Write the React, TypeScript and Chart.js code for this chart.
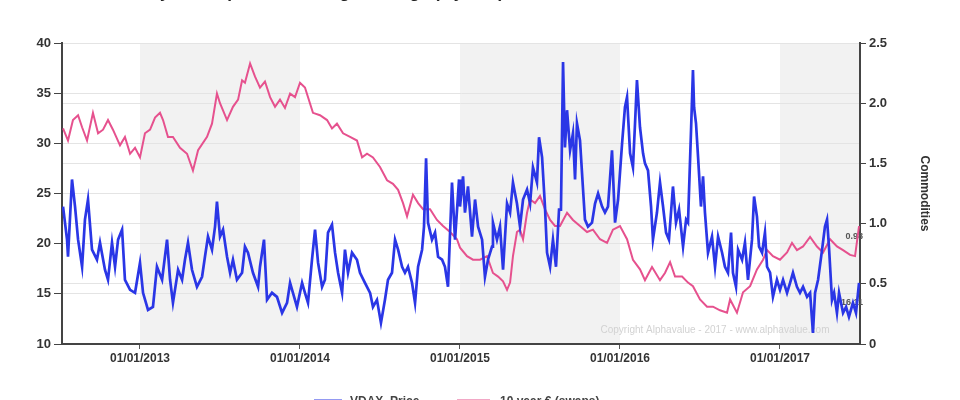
import { useEffect, useRef } from "react";
import { Chart, registerables } from "chart.js";

Chart.register(...registerables);

// ---- Data (time in decimal years) ----
const vdaxDates = [
  2012.519, 2012.544, 2012.55, 2012.575, 2012.594, 2012.613, 2012.638, 2012.656, 2012.675, 2012.7,
  2012.731, 2012.75, 2012.781, 2012.8, 2012.825, 2012.844, 2012.863, 2012.888, 2012.906, 2012.938,
  2012.969, 2013.0, 2013.019, 2013.05, 2013.081, 2013.106, 2013.138, 2013.169, 2013.188, 2013.206,
  2013.238, 2013.263, 2013.281, 2013.3, 2013.325, 2013.356, 2013.388, 2013.406, 2013.425, 2013.45,
  2013.469, 2013.481, 2013.5, 2013.519, 2013.544, 2013.563, 2013.581, 2013.606, 2013.638, 2013.656,
  2013.675, 2013.706, 2013.738, 2013.75, 2013.775, 2013.794, 2013.825, 2013.856, 2013.888, 2013.919,
  2013.938, 2013.956, 2013.981, 2014.013, 2014.031, 2014.05, 2014.075, 2014.094, 2014.113, 2014.138,
  2014.156, 2014.175, 2014.2, 2014.219, 2014.238, 2014.263, 2014.281, 2014.3, 2014.325, 2014.356,
  2014.375, 2014.406, 2014.438, 2014.456, 2014.481, 2014.506, 2014.531, 2014.55, 2014.575, 2014.594,
  2014.613, 2014.638, 2014.656, 2014.675, 2014.7, 2014.719, 2014.738, 2014.763, 2014.775, 2014.788,
  2014.8, 2014.825, 2014.844, 2014.863, 2014.888, 2014.906, 2014.925, 2014.95, 2014.969, 2014.994,
  2015.0, 2015.019, 2015.031, 2015.05, 2015.075, 2015.094, 2015.113, 2015.138, 2015.156, 2015.175,
  2015.2, 2015.206, 2015.231, 2015.25, 2015.269, 2015.294, 2015.313, 2015.331, 2015.356, 2015.375,
  2015.394, 2015.419, 2015.438, 2015.456, 2015.481, 2015.494, 2015.513, 2015.531, 2015.544, 2015.563,
  2015.581, 2015.6, 2015.619, 2015.631, 2015.644, 2015.656, 2015.669, 2015.688, 2015.706, 2015.719,
  2015.731, 2015.75, 2015.769, 2015.781, 2015.8, 2015.825, 2015.844, 2015.863, 2015.888, 2015.906,
  2015.925, 2015.95, 2015.969, 2015.988, 2016.013, 2016.031, 2016.044, 2016.063, 2016.081, 2016.094,
  2016.106, 2016.125, 2016.144, 2016.156, 2016.175, 2016.194, 2016.206, 2016.231, 2016.25, 2016.269,
  2016.288, 2016.306, 2016.331, 2016.35, 2016.369, 2016.394, 2016.413, 2016.425, 2016.444, 2016.456,
  2016.463, 2016.475, 2016.488, 2016.506, 2016.519, 2016.531, 2016.55, 2016.575, 2016.594, 2016.613,
  2016.638, 2016.656, 2016.675, 2016.694, 2016.706, 2016.725, 2016.738, 2016.763, 2016.781, 2016.8,
  2016.825, 2016.838, 2016.856, 2016.869, 2016.888, 2016.906, 2016.919, 2016.938, 2016.956, 2016.981,
  2017.0, 2017.019, 2017.044, 2017.063, 2017.081, 2017.106, 2017.125, 2017.144, 2017.169, 2017.188,
  2017.206, 2017.219, 2017.238, 2017.263, 2017.281, 2017.294, 2017.306, 2017.325, 2017.338, 2017.356,
  2017.369, 2017.394, 2017.413, 2017.431, 2017.456, 2017.475, 2017.494,
];
const vdaxValues = [
  23.7, 20.4, 18.7, 26.4, 23.7, 20.4, 17.7, 22.4, 24.4, 19.4,
  18.4, 20.1, 17.4, 16.4, 20.1, 17.7, 20.4, 21.4, 16.4, 15.4,
  15.1, 18.1, 15.1, 13.4, 13.7, 17.7, 16.4, 20.4, 16.4, 14.1,
  17.4, 16.4, 18.4, 20.1, 17.4, 15.7, 16.7, 18.7, 20.7, 19.4,
  21.7, 24.2, 20.7, 21.4, 18.7, 17.1, 18.4, 16.4, 17.1, 19.7,
  19.1, 17.1, 15.7, 17.7, 20.4, 14.4, 15.1, 14.7, 13.1, 14.1,
  16.1, 15.1, 13.7, 16.1, 15.1, 14.1, 18.4, 21.4, 18.1, 15.7,
  16.4, 21.1, 21.9, 19.1, 17.1, 15.1, 19.4, 17.1, 19.1, 18.4,
  17.1, 16.1, 15.1, 13.7, 14.4, 12.1, 14.4, 16.4, 17.1, 20.4,
  19.4, 17.7, 17.1, 17.7, 16.1, 14.1, 17.7, 19.4, 21.7, 28.5,
  22.1, 20.4, 21.1, 18.7, 18.4, 17.7, 15.7, 26.1, 20.4, 26.4,
  23.7, 26.7, 23.1, 25.7, 20.7, 24.4, 21.7, 20.4, 16.7, 18.4,
  19.7, 22.1, 20.4, 21.7, 17.4, 24.0, 23.1, 26.1, 24.0, 21.7,
  24.4, 25.4, 24.0, 27.6, 26.1, 30.6, 28.6, 23.7, 19.1, 17.7,
  20.4, 17.7, 23.4, 23.4, 38.1, 29.6, 33.3, 29.3, 31.0, 26.4,
  32.0, 30.3, 25.4, 22.4, 21.7, 22.1, 24.0, 25.0, 23.7, 23.1,
  23.7, 29.3, 22.1, 24.4, 30.0, 33.6, 34.6, 29.0, 27.6, 32.0,
  36.3, 31.6, 29.0, 28.0, 27.3, 23.7, 20.4, 23.1, 26.1, 23.7,
  21.1, 20.4, 25.7, 22.1, 23.4, 19.7, 22.4, 22.1, 31.3, 37.3,
  33.6, 32.0, 28.6, 23.7, 26.7, 23.1, 19.1, 20.7, 17.7, 20.7,
  19.1, 17.7, 17.1, 21.1, 17.1, 15.7, 19.4, 18.4, 20.1, 16.4,
  20.4, 24.7, 22.7, 19.7, 19.1, 21.1, 17.7, 17.1, 14.7, 16.4,
  15.4, 16.4, 15.1, 16.1, 17.1, 15.7, 15.1, 15.7, 14.7, 15.1,
  11.1, 15.1, 16.4, 19.4, 21.7, 22.4, 19.7, 14.4, 15.1, 13.1,
  15.1, 13.1, 13.7, 12.7, 14.1, 13.1, 16.1,
];

const swapDates = [
  2012.519, 2012.55, 2012.581, 2012.613, 2012.638, 2012.669, 2012.706, 2012.738, 2012.769, 2012.8,
  2012.831, 2012.875, 2012.906, 2012.938, 2012.969, 2013.0, 2013.031, 2013.063, 2013.094, 2013.125,
  2013.144, 2013.175, 2013.206, 2013.25, 2013.294, 2013.331, 2013.363, 2013.419, 2013.45, 2013.481,
  2013.5, 2013.544, 2013.581, 2013.613, 2013.638, 2013.656, 2013.688, 2013.719, 2013.75, 2013.781,
  2013.813, 2013.844, 2013.875, 2013.906, 2013.938, 2013.969, 2014.0, 2014.031, 2014.081, 2014.125,
  2014.169, 2014.2, 2014.231, 2014.269, 2014.313, 2014.356, 2014.388, 2014.419, 2014.456, 2014.5,
  2014.544, 2014.581, 2014.613, 2014.644, 2014.669, 2014.706, 2014.738, 2014.769, 2014.813, 2014.856,
  2014.894, 2014.938, 2014.981, 2015.0, 2015.044, 2015.081, 2015.125, 2015.169, 2015.206, 2015.238,
  2015.269, 2015.294, 2015.313, 2015.331, 2015.356, 2015.375, 2015.394, 2015.419, 2015.438, 2015.469,
  2015.5, 2015.531, 2015.563, 2015.594, 2015.625, 2015.669, 2015.706, 2015.75, 2015.794, 2015.831,
  2015.875, 2015.919, 2015.956, 2016.0, 2016.044, 2016.081, 2016.125, 2016.156, 2016.2, 2016.25,
  2016.281, 2016.313, 2016.344, 2016.388, 2016.425, 2016.456, 2016.5, 2016.544, 2016.581, 2016.625,
  2016.669, 2016.688, 2016.731, 2016.769, 2016.813, 2016.856, 2016.894, 2016.919, 2016.956, 2017.0,
  2017.044, 2017.075, 2017.106, 2017.144, 2017.188, 2017.231, 2017.269, 2017.313, 2017.356, 2017.394,
  2017.438, 2017.469, 2017.494,
];
const swapValues = [
  1.79, 1.69, 1.86, 1.90, 1.80, 1.69, 1.92, 1.75, 1.78, 1.86,
  1.78, 1.65, 1.72, 1.58, 1.63, 1.55, 1.75, 1.78, 1.88, 1.92,
  1.86, 1.72, 1.72, 1.63, 1.58, 1.44, 1.61, 1.72, 1.83, 2.08,
  2.00, 1.86, 1.97, 2.03, 2.19, 2.17, 2.33, 2.22, 2.13, 2.18,
  2.05, 1.97, 2.03, 1.96, 2.08, 2.05, 2.17, 2.13, 1.92, 1.90,
  1.86, 1.79, 1.83, 1.75, 1.72, 1.69, 1.55, 1.58, 1.55, 1.47,
  1.36, 1.33, 1.28, 1.17, 1.06, 1.24, 1.17, 1.12, 1.12, 1.03,
  0.98, 0.93, 0.87, 0.80, 0.73, 0.70, 0.70, 0.73, 0.59, 0.56,
  0.52, 0.45, 0.51, 0.73, 0.93, 0.95, 0.87, 1.09, 1.20, 1.17,
  1.23, 1.12, 1.03, 0.98, 0.98, 1.09, 1.03, 0.98, 0.93, 0.95,
  0.87, 0.84, 0.95, 0.98, 0.87, 0.70, 0.62, 0.53, 0.64, 0.53,
  0.59, 0.68, 0.56, 0.56, 0.51, 0.48, 0.37, 0.31, 0.31, 0.28,
  0.26, 0.37, 0.26, 0.43, 0.48, 0.62, 0.70, 0.78, 0.73, 0.70,
  0.76, 0.84, 0.78, 0.81, 0.89, 0.81, 0.76, 0.87, 0.81, 0.78,
  0.74, 0.73, 0.98,
];

const yearTicks = [2013, 2014, 2015, 2016, 2017];
const shadedStarts = [2013, 2015, 2017];
const xMin = 2012.5125;
const xMax = 2017.5;
const leftMin = 10;
const leftMax = 40;
const leftStep = 5;
const rightMin = 0;
const rightMax = 2.5;
const rightStep = 0.5;

const seriesNames = ["VDAX_Price", "10 year € (swaps)"];
const lastLabels = ["16.11", "0.98"];
const titleText = "Relative Volatility vs Corporate Lending Leverage (3 years)";
const rightAxisTitle = "Commodities";
const copyrightText = "Copyright Alphavalue - 2017 - www.alphavalue.com";

const BLUE = "#2a36e6";
const PINK = "#e6518e";
const FONT = "'Liberation Sans', Arial, sans-serif";

export default function App() {
  const ref = useRef<HTMLCanvasElement | null>(null);

  useEffect(() => {
    if (!ref.current) return;

    const decor = {
      id: "decor",
      beforeDraw(chart: any) {
        const { ctx, chartArea } = chart;
        const xs = chart.scales.x;
        ctx.save();
        ctx.fillStyle = "#f2f2f2";
        shadedStarts.forEach((s) => {
          const a = Math.max(xs.getPixelForValue(s), chartArea.left);
          const b = Math.min(xs.getPixelForValue(s + 1), chartArea.right);
          if (b > a) ctx.fillRect(a, chartArea.top, b - a, chartArea.bottom - chartArea.top);
        });
        ctx.restore();
      },
      beforeDatasetsDraw(chart: any) {
        const { ctx, chartArea } = chart;
        const yl = chart.scales.y;
        const yr = chart.scales.y1;
        ctx.save();
        ctx.font = `10px ${FONT}`;
        ctx.fillStyle = "#d2d2d2";
        ctx.textAlign = "center";
        ctx.textBaseline = "middle";
        ctx.fillText(copyrightText, chartArea.right - 145, chartArea.bottom - 14);
        ctx.font = `bold 9px ${FONT}`;
        ctx.fillStyle = "#555";
        ctx.textAlign = "right";
        const vLast = vdaxValues[vdaxValues.length - 1];
        const sLast = swapValues[swapValues.length - 1];
        ctx.fillText(lastLabels[0], chartArea.right + 3, yl.getPixelForValue(vLast) + 20);
        ctx.fillText(lastLabels[1], chartArea.right + 3, yr.getPixelForValue(sLast) + 11);
        ctx.restore();
      },
      afterDraw(chart: any) {
        const { ctx } = chart;
        ctx.save();
        ctx.font = `bold 17px ${FONT}`;
        ctx.fillStyle = "#222";
        ctx.textAlign = "left";
        ctx.textBaseline = "alphabetic";
        ctx.fillText(titleText, 30, -2);
        ctx.font = `bold 12px ${FONT}`;
        ctx.fillStyle = "#444";
        ctx.textBaseline = "top";
        ctx.lineWidth = 1;
        ctx.globalAlpha = 0.5;
        ctx.strokeStyle = BLUE;
        ctx.beginPath();
        ctx.moveTo(314, 399.5);
        ctx.lineTo(342, 399.5);
        ctx.stroke();
        ctx.strokeStyle = PINK;
        ctx.beginPath();
        ctx.moveTo(457, 399.5);
        ctx.lineTo(490, 399.5);
        ctx.stroke();
        ctx.globalAlpha = 1;
        ctx.fillText(seriesNames[0], 350, 396);
        ctx.fillText(seriesNames[1], 500, 396);
        ctx.restore();
      },
    };

    const tickFont = { family: FONT, size: 13, weight: "bold" as const };

    const chart = new Chart(ref.current, {
      type: "line",
      data: {
        datasets: [
          {
            label: seriesNames[0],
            data: vdaxDates.map((d, i) => ({ x: d, y: vdaxValues[i] })),
            yAxisID: "y",
            borderColor: BLUE,
            borderWidth: 2.7,
            pointRadius: 0,
            tension: 0,
          },
          {
            label: seriesNames[1],
            data: swapDates.map((d, i) => ({ x: d, y: swapValues[i] })),
            yAxisID: "y1",
            borderColor: PINK,
            borderWidth: 2,
            pointRadius: 0,
            tension: 0,
          },
        ],
      },
      options: {
        animation: false,
        responsive: false,
        layout: { padding: { top: 43, left: 0, right: 0, bottom: 0 } },
        plugins: {
          legend: { display: false },
          tooltip: { enabled: false },
          title: { display: false },
        },
        scales: {
          x: {
            type: "linear",
            min: xMin,
            max: xMax,
            afterBuildTicks: (s: any) => {
              s.ticks = yearTicks.map((v) => ({ value: v }));
            },
            afterFit: (s: any) => {
              s.height = 56;
            },
            ticks: {
              autoSkip: false,
              maxRotation: 0,
              padding: 2,
              color: "#333",
              font: { family: FONT, size: 12, weight: "bold" },
              callback: (v: any) => "01/01/" + v,
            },
            grid: { drawOnChartArea: false, drawTicks: true, tickLength: 5, tickColor: "#555" },
            border: { display: true, color: "#444", width: 2 },
          },
          y: {
            position: "left",
            min: leftMin,
            max: leftMax,
            afterFit: (s: any) => {
              s.width = 62;
            },
            ticks: { stepSize: leftStep, padding: 3, color: "#333", font: tickFont },
            grid: { color: "#e4e4e4", lineWidth: 1, tickColor: "#444", tickLength: 8 },
            border: { display: true, color: "#444", width: 2 },
          },
          y1: {
            position: "right",
            min: rightMin,
            max: rightMax,
            afterFit: (s: any) => {
              s.width = 100;
            },
            ticks: { stepSize: rightStep, padding: 3, color: "#333", font: tickFont },
            grid: { color: "#e4e4e4", lineWidth: 1, tickColor: "#444", tickLength: 6 },
            border: { display: true, color: "#444", width: 2 },
            title: {
              display: true,
              text: rightAxisTitle,
              color: "#333",
              font: { family: FONT, size: 12, weight: "bold" },
              padding: { top: 28, bottom: 0 },
            },
          },
        },
      },
      plugins: [decor],
    });

    return () => chart.destroy();
  }, []);

  return (
    <div style={{ position: "fixed", left: 0, top: 0, width: 960, height: 400, background: "#fff" }}>
      <canvas ref={ref} width={960} height={400} style={{ display: "block" }} />
    </div>
  );
}
